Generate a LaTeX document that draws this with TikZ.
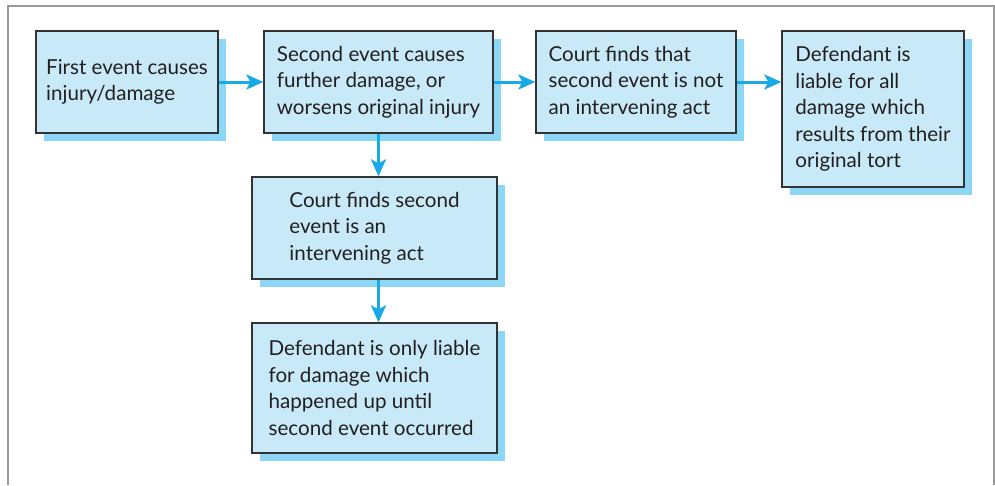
\documentclass[tikz,border=0pt]{standalone}
\usepackage{fontspec}
\setmainfont{Lato}
\usepackage{xcolor}
\usepackage{tikz}
\usetikzlibrary{positioning,calc,shadows,arrows.meta}

\definecolor{boxfill}{HTML}{C8E9F8}
\definecolor{boxshade}{HTML}{8CD7F5}
\definecolor{flowblue}{HTML}{19A9E6}
\definecolor{textdark}{HTML}{231F20}
\definecolor{framegray}{HTML}{9A9A9A}

\tikzset{
    stagebox/.style={draw=black!80, line width=1.3pt, fill=boxfill, align=left,
        text=textdark, inner sep=0pt,
        font=\fontsize{20.6}{26.5}\selectfont,
        general shadow={fill=boxshade, shadow xshift=8pt, shadow yshift=-8pt}},
    flow/.style={draw=flowblue, line width=3pt,
        -{Stealth[length=17pt,width=15pt,inset=4pt]}}
}

\begin{document}
\begin{tikzpicture}[x=1pt, y=-1pt]
    \useasboundingbox (0, 0) rectangle (995, 485);

    % Frame (open at the bottom)
    \draw [framegray, line width=2pt] (8, 485) -- (8, 6) -- (994, 6) -- (994, 485);

    % Top row
    \node [stagebox, minimum width=182pt, minimum height=102pt] (first) at (127, 82)
        {First event causes\\injury/damage};
    \node [stagebox, minimum width=229pt, minimum height=102pt] (second) at (378.5, 82)
        {Second event causes\\further damage, or\\worsens original injury};
    \node [stagebox, minimum width=200pt, minimum height=102pt] (notact) at (636, 82)
        {Court finds that\\second event is not\\an intervening act};
    \node [stagebox, minimum width=182pt, minimum height=156pt] (liableall) at (873, 109)
        {Defendant is\\liable for all\\damage which\\results from their\\original tort};

    % Lower branch
    \node [stagebox, minimum width=245pt, minimum height=102pt] (isact) at (374.5, 228)
        {Court finds second\\event is an\\intervening act};
    \node [stagebox, minimum width=245pt, minimum height=130pt] (liableonly) at (374.5, 388)
        {Defendant is only liable\\for damage which\\happened up until\\second event occurred};

    % Arrows
    \draw [flow] (first) -- (second);
    \draw [flow] (second) -- (notact);
    \draw [flow] (notact.east) -- (notact.east -| liableall.west);
    \draw [flow] (second.south) -- (second.south |- isact.north);
    \draw [flow] (isact.south -| second.south) -- (second.south |- liableonly.north);
\end{tikzpicture}
\end{document}
